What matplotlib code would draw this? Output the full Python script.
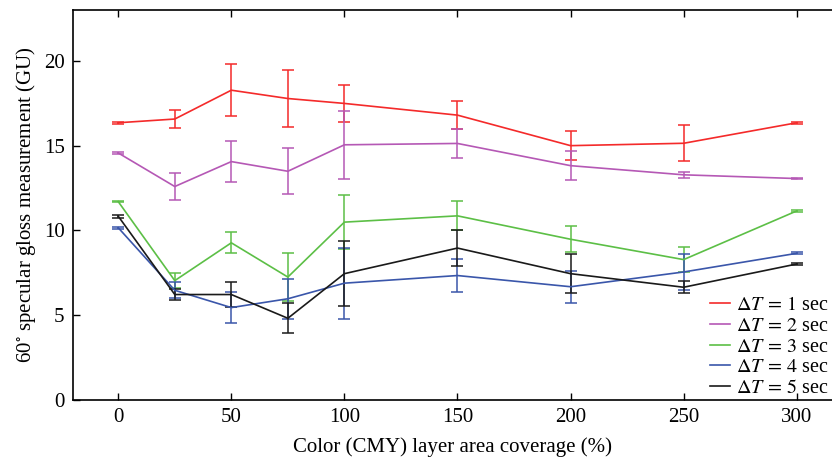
import matplotlib
matplotlib.use("Agg")
import matplotlib.pyplot as plt
import numpy as np

plt.rcParams["font.family"] = ["Liberation Serif", "DejaVu Serif"]
plt.rcParams["mathtext.fontset"] = "stix"

# Area coverage of the colour layer (%)
coverage = [0, 25, 50, 75, 100, 150, 200, 250, 300]

# Mean 60-degree gloss (GU) for each dwell time
gloss_dt1 = [16.35, 16.57, 18.27, 17.78, 17.49, 16.80, 15.00, 15.14, 16.35]
gloss_dt2 = [14.57, 12.59, 14.06, 13.49, 15.05, 15.13, 13.82, 13.28, 13.06]
gloss_dt3 = [11.70, 7.04, 9.27, 7.25, 10.49, 10.86, 9.48, 8.28, 11.15]
gloss_dt4 = [10.16, 6.47, 5.45, 5.97, 6.89, 7.34, 6.68, 7.55, 8.65]
gloss_dt5 = [10.84, 6.22, 6.22, 4.82, 7.45, 8.96, 7.45, 6.65, 8.02]

# Standard deviations (GU)
err_dt1 = [0.05, 0.52, 1.53, 1.67, 1.08, 0.83, 0.86, 1.07, 0.05]
err_dt2 = [0.05, 0.81, 1.20, 1.37, 2.01, 0.86, 0.85, 0.16, 0.05]
err_dt3 = [0.05, 0.45, 0.62, 1.44, 1.61, 0.85, 0.76, 0.74, 0.05]
err_dt4 = [0.05, 0.46, 0.90, 1.18, 2.09, 0.98, 0.95, 1.04, 0.05]
err_dt5 = [0.08, 0.34, 0.76, 0.88, 1.92, 1.05, 1.14, 0.36, 0.05]

labels = [r"$\Delta T\,=\,1$ sec", r"$\Delta T\,=\,2$ sec", r"$\Delta T\,=\,3$ sec",
          r"$\Delta T\,=\,4$ sec", r"$\Delta T\,=\,5$ sec"]
colors = ["#f42a2a", "#b558b5", "#5cbf46", "#3a56aa", "#1a1a1a"]

series = [gloss_dt1, gloss_dt2, gloss_dt3, gloss_dt4, gloss_dt5]
errors = [err_dt1, err_dt2, err_dt3, err_dt4, err_dt5]

fig = plt.figure(figsize=(8.32, 4.62), dpi=100)
ax = fig.add_axes([73 / 832, 62 / 462, 1 - 73 / 832, 390 / 462])

handles = []
for y, e, c, lab in zip(series, errors, colors, labels):
    ax.errorbar(coverage, y, yerr=e, color=c, lw=1.2, elinewidth=1.1,
                capsize=4.5, capthick=1.1)
    h, = ax.plot([], [], color=c, lw=1.2, label=lab)
    handles.append(h)

ax.set_xlim(-20, 315.6)
ax.set_ylim(0, 23)
ax.set_xticks([0, 50, 100, 150, 200, 250, 300])
ax.set_yticks([0, 5, 10, 15, 20])
ax.tick_params(direction="in", length=5, width=1, labelsize=15, top=True,
               right=False, pad=6)
ax.spines["right"].set_visible(False)
for s in ("left", "bottom", "top"):
    ax.spines[s].set_linewidth(1.2)

ax.set_xlabel("Color (CMY) layer area coverage (%)", fontsize=15, labelpad=7)
ax.set_ylabel(r"60$^{\circ}$ specular gloss measurement (GU)", fontsize=15,
              labelpad=4)

ax.legend(handles=handles, loc="lower right", frameon=False, fontsize=14.5,
          handlelength=1.0, handletextpad=0.3, labelspacing=0.08,
          borderaxespad=0.0, bbox_to_anchor=(1.006, -0.016))

fig.savefig("out.png", dpi=100)
